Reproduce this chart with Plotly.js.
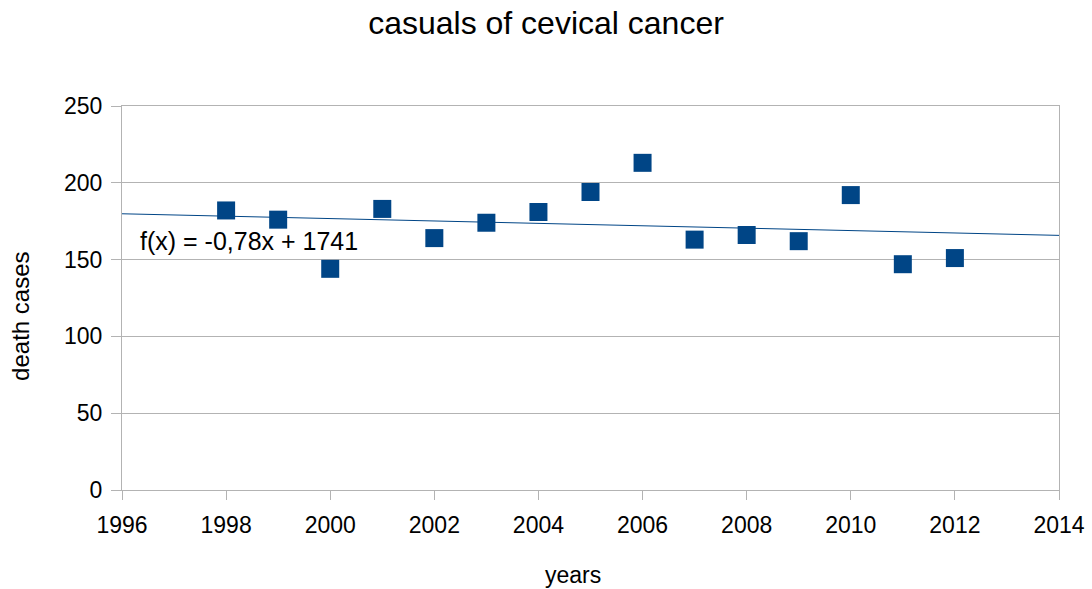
<!DOCTYPE html>
<html><head><meta charset="utf-8">
<script src="https://cdn.plot.ly/plotly-3.0.1.min.js"></script>
<style>body{margin:0;background:#fff}#chart{width:1092px;height:589px}</style>
</head><body><div id="chart"></div>
<script>
const years = [1998,1999,2000,2001,2002,2003,2004,2005,2006,2007,2008,2009,2010,2011,2012];
const deaths = [182,176,144,183,164,174,181,194,213,163,166,162,192,147,151];
const xRange = [1996, 2014];
const trendLabel = "f(x) = -0,78x + 1741";

// least-squares trend line from the data
const n = years.length;
const mx = years.reduce((a,b)=>a+b,0)/n;
const my = deaths.reduce((a,b)=>a+b,0)/n;
let sxy=0, sxx=0;
for (let i=0;i<n;i++){ sxy += (years[i]-mx)*(deaths[i]-my); sxx += (years[i]-mx)**2; }
const slope = sxy/sxx, icpt = my - slope*mx;
const trendX = xRange.slice();
const trendY = trendX.map(x => slope*x + icpt);

const font = "Liberation Sans, Arial, sans-serif";
Plotly.newPlot('chart', [
  {x: trendX, y: trendY, mode:'lines', line:{color:'#004586', width:1}, hoverinfo:'skip', showlegend:false},
  {x: years, y: deaths, mode:'markers', marker:{symbol:'square', size:18, color:'#004586'}, showlegend:false}
], {
  width:1092, height:589,
  margin:{l:122, r:33, t:106, b:99},
  paper_bgcolor:'#fff', plot_bgcolor:'#fff',
  font:{family:font, color:'#000'},
  title:{text:'casuals of cevical cancer', font:{size:32, family:font, color:'#000'}, x:0.5, xanchor:'center', y:0.962, yanchor:'middle'},
  xaxis:{range:xRange, dtick:2, tick0:1996, showgrid:false, zeroline:false,
    showline:true, linecolor:'#b3b3b3', linewidth:1, mirror:true,
    ticks:'outside', ticklen:9, tickcolor:'#b3b3b3', tickfont:{size:23, family:font}, ticklabelstandoff:5},
  yaxis:{range:[0,250], dtick:50, showgrid:true, gridcolor:'#b3b3b3', zeroline:false,
    showline:true, linecolor:'#b3b3b3', linewidth:1, mirror:true,
    ticks:'outside', ticklen:10, tickcolor:'#b3b3b3', tickfont:{size:23, family:font}, ticklabelstandoff:4},
  annotations:[
    {x:1996.3, y:162, xref:'x', yref:'y', text:trendLabel, showarrow:false,
     xanchor:'left', yanchor:'middle', font:{size:25, family:font, color:'#000'}},
    {x:0.481, y:-0.221, xref:'paper', yref:'paper', text:'years', showarrow:false,
     xanchor:'center', yanchor:'middle', font:{size:23, family:font, color:'#000'}},
    {x:-0.109, y:0.453, xref:'paper', yref:'paper', text:'death cases', showarrow:false, textangle:-90,
     xanchor:'center', yanchor:'middle', font:{size:24, family:font, color:'#000'}}
  ]
}, {displayModeBar:false, staticPlot:true});
</script></body></html>
